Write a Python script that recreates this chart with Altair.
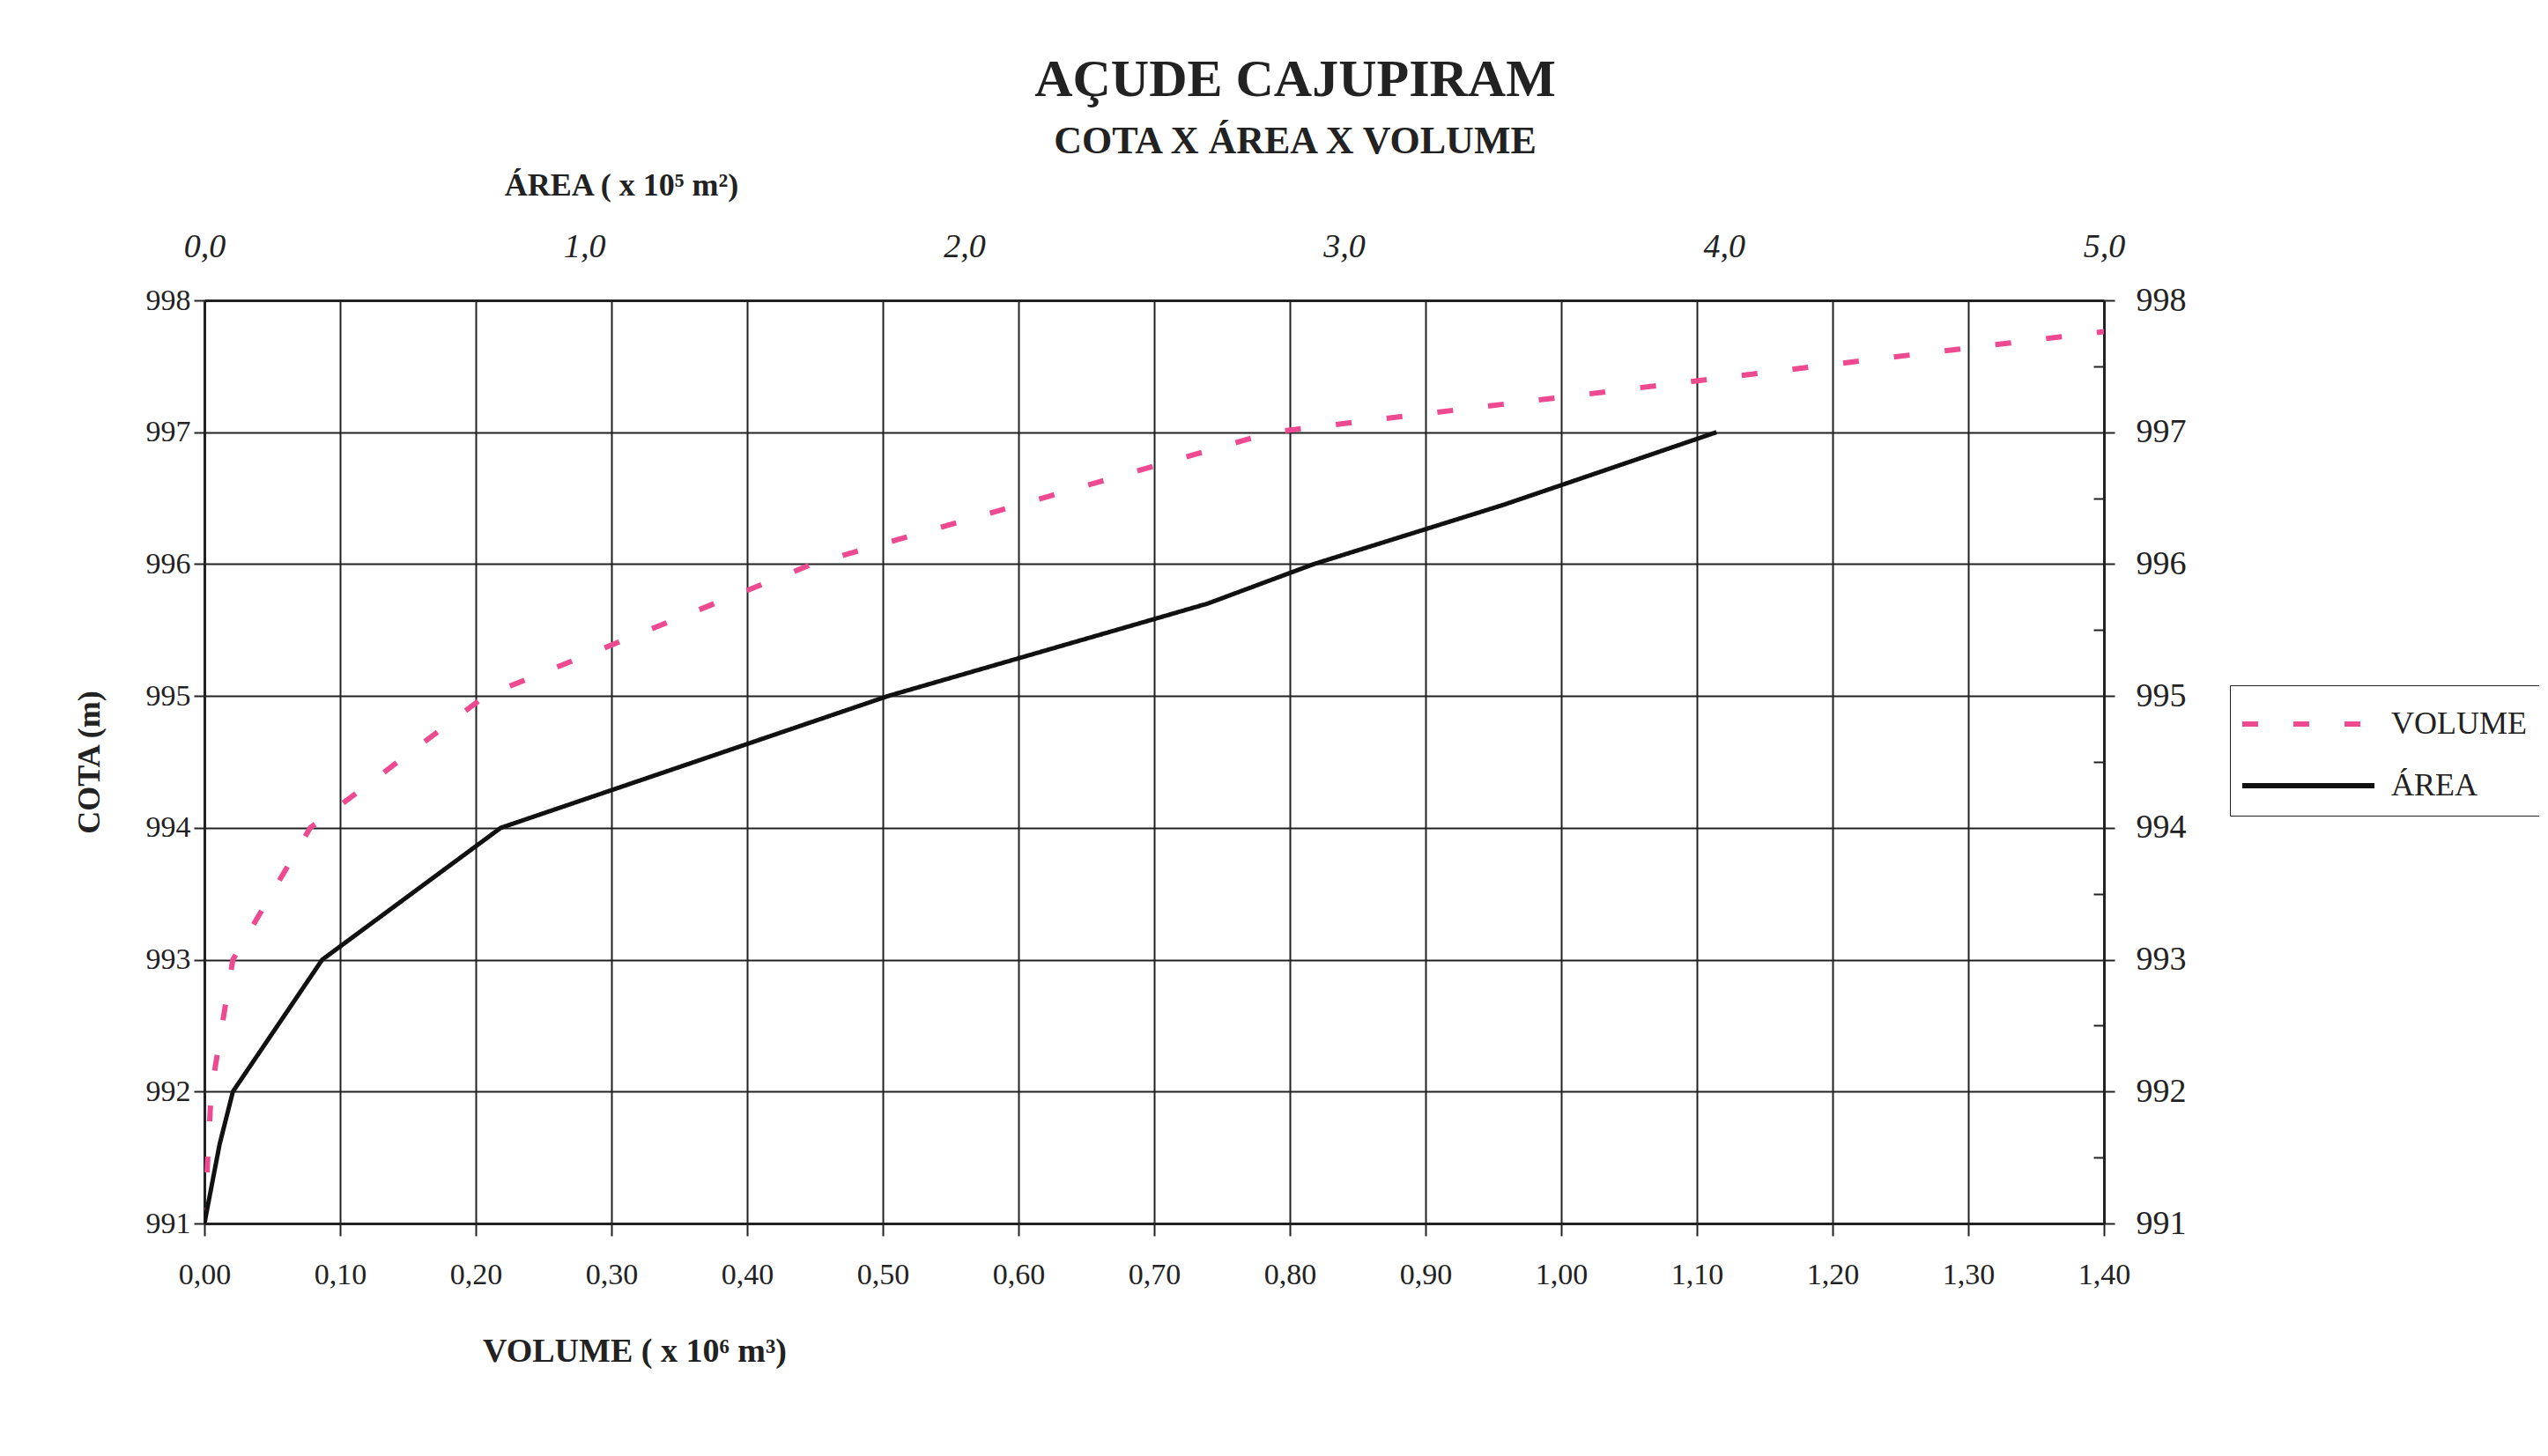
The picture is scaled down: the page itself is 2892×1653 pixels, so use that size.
import altair as alt
import pandas as pd

# ---- data ----
cota_volume = [991, 992, 993, 994, 995, 996, 997, 998]
volume = [0.0, 0.005, 0.021, 0.078, 0.207, 0.448, 0.787, 1.59]   # x 10^6 m3

cota_area = [991, 991.6, 992, 993, 994, 995, 995.7, 996, 996.45, 997]
area = [0.0, 0.04, 0.075, 0.31, 0.78, 1.80, 2.64, 2.92, 3.42, 3.98]  # x 10^5 m2

series = ["VOLUME", "ÁREA"]
volume_ticks = [round(i * 0.1, 2) for i in range(15)]
area_ticks = [0, 1, 2, 3, 4, 5]
cota_ticks = [991, 992, 993, 994, 995, 996, 997, 998]
cota_minor = [991.5, 992.5, 993.5, 994.5, 995.5, 996.5, 997.5]

df_vol = pd.DataFrame({"cota": cota_volume, "valor": volume, "serie": "VOLUME"})
df_area = pd.DataFrame({"cota": cota_area, "valor": area, "serie": "ÁREA"})

FONT = "Liberation Serif"
PINK = "#ee4a92"
INK = "#222222"
W, H = 2156, 1048

color_scale = alt.Scale(domain=series, range=[PINK, "#111111"])
dash_scale = alt.Scale(domain=series, range=[[18, 40], [1, 0]])

legend = alt.Legend(
    title=None, orient="none", legendX=2299, legendY=437,
    fillColor="white", strokeColor=INK, padding=16,
    labelFont=FONT, labelFontSize=36, labelColor=INK,
    symbolType="M-3,0H3", symbolSize=2500, symbolStrokeWidth=6,
    symbolOffset=45, labelOffset=66, rowPadding=24,
)

y_scale = alt.Scale(domain=[991, 998], nice=False, zero=False)

vol_layer = alt.Chart(df_vol).mark_line(strokeWidth=6, clip=True).encode(
    x=alt.X("valor:Q",
            scale=alt.Scale(domain=[0, 1.4], nice=False),
            axis=alt.Axis(
                orient="bottom", values=volume_ticks, labelFlush=False,
                labelExpr="replace(format(datum.value, '.2f'), '.', ',')",
                title="VOLUME  ( x 10⁶ m³)",
                titleX=488, titleY=145, titleAlign="center", titleBaseline="middle",
                titleFont=FONT, titleFontSize=38, titleFontWeight="bold", titleColor=INK,
                labelFont=FONT, labelFontSize=34, labelColor=INK,
                tickSize=14, labelPadding=27, tickColor=INK, tickWidth=2,
                grid=True, gridColor=INK, gridWidth=2,
                domainColor=INK, domainWidth=3,
            )),
    y=alt.Y("cota:Q", scale=y_scale,
            axis=alt.Axis(
                orient="left", values=cota_ticks, format="d", labelFlush=False,
                title="COTA (m)", titleX=-131, titleY=524, titleAngle=-90,
                titleAlign="center", titleBaseline="middle",
                titleFont=FONT, titleFontSize=36, titleFontWeight="bold", titleColor=INK,
                labelFont=FONT, labelFontSize=34, labelColor=INK,
                tickSize=12, labelPadding=4, tickColor=INK, tickWidth=2,
                grid=True, gridColor=INK, gridWidth=2,
                domainColor=INK, domainWidth=3,
            )),
    color=alt.Color("serie:N", scale=color_scale, legend=legend),
    strokeDash=alt.StrokeDash("serie:N", scale=dash_scale, legend=legend),
)

area_layer = alt.Chart(df_area).mark_line(strokeWidth=5, clip=True).encode(
    x=alt.X("valor:Q",
            scale=alt.Scale(domain=[0, 5], nice=False),
            axis=alt.Axis(
                orient="top", values=area_ticks, labelFlush=False,
                labelExpr="replace(format(datum.value, '.1f'), '.', ',')",
                title="ÁREA ( x 10⁵ m²)",
                titleX=473, titleY=-131, titleAlign="center", titleBaseline="middle",
                titleFont=FONT, titleFontSize=36, titleFontWeight="bold", titleColor=INK,
                labelFont=FONT, labelFontSize=38, labelFontStyle="italic", labelColor=INK,
                ticks=False, labelPadding=42,
                grid=False, domainColor=INK, domainWidth=3,
            )),
    y=alt.Y("cota:Q", scale=y_scale,
            axis=alt.Axis(
                orient="right", values=cota_ticks, format="d", title=None, labelFlush=False,
                labelFont=FONT, labelFontSize=38, labelColor=INK,
                tickSize=12, labelPadding=24, tickColor=INK, tickWidth=2,
                grid=False, domainColor=INK, domainWidth=3,
            )),
    color=alt.Color("serie:N", scale=color_scale, legend=legend),
    strokeDash=alt.StrokeDash("serie:N", scale=dash_scale, legend=legend),
)

# invisible layer only carrying the inward minor ticks of the right axis
minor_layer = alt.Chart(df_area).mark_point(opacity=0).encode(
    x=alt.X("valor:Q", scale=alt.Scale(domain=[0, 5], nice=False), axis=None),
    y=alt.Y("cota:Q", scale=y_scale,
            axis=alt.Axis(
                orient="right", values=cota_minor, labels=False, title=None,
                domain=False, grid=False, offset=-12,
                tickSize=12, tickColor=INK, tickWidth=2,
            )),
)

chart = alt.layer(vol_layer, area_layer, minor_layer).resolve_scale(
    x="independent", y="independent"
).properties(
    width=W, height=H,
    autosize=alt.AutoSizeParams(type="none"),
    padding={"left": 224, "top": 333, "right": 494, "bottom": 240},
    title=alt.TitleParams(
        text="AÇUDE CAJUPIRAM", subtitle="COTA X ÁREA X VOLUME",
        font=FONT, fontSize=60, fontWeight="bold", color=INK,
        subtitleFont=FONT, subtitleFontSize=44, subtitleFontWeight="bold",
        subtitleColor=INK, subtitlePadding=17,
        anchor="middle", dx=160, offset=8,
    ),
).configure_view(stroke=INK, strokeWidth=3).configure(background="white")

chart.save("out.html", embed_options={"renderer": "svg", "actions": False})
